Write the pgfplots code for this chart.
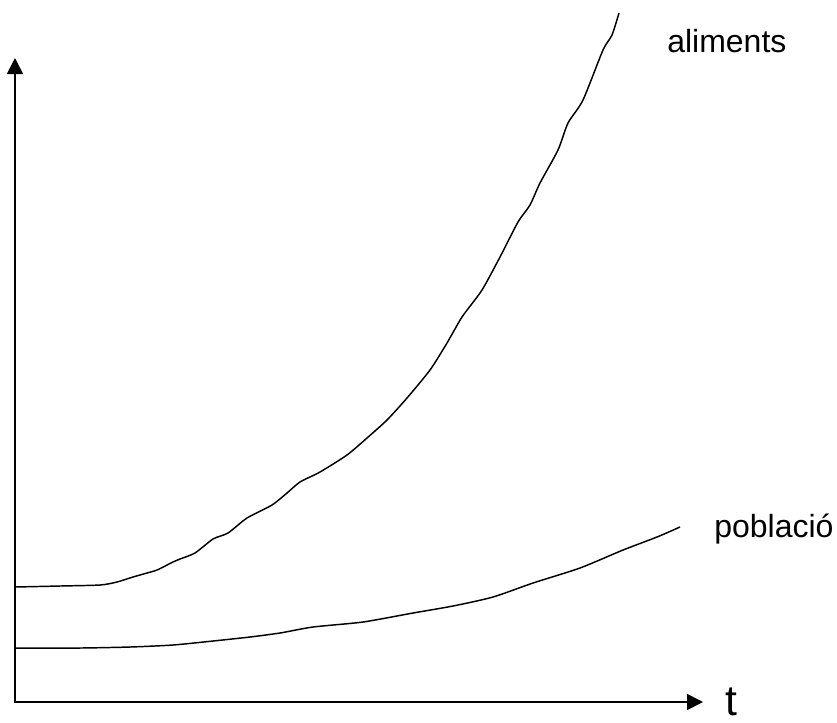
\documentclass[border=0pt]{standalone}
\usepackage{fontspec}
\setmainfont{Liberation Sans}
\usepackage{pgfplots}
\pgfplotsset{compat=1.18}
\usetikzlibrary{arrows.meta}

\begin{document}
\begin{tikzpicture}
\begin{axis}[
    width=627.75pt, height=541.5pt, scale only axis,
    xmin=0, xmax=837, ymin=0, ymax=722,
    y dir=reverse,
    hide axis, clip=false,
]
% frame of the page
\addplot[draw=none] coordinates {(0,0) (837,722)};

% axes
\addplot[line width=1.3pt, {Triangle[length=12pt,width=12pt]}-{Triangle[length=12pt,width=12pt]}]
    coordinates {(15,58) (15,702) (703,702)};

% aliments
\addplot[line width=1.1pt, black, smooth, tension=0.4] coordinates {
    (15,587) (60,586) (100,585) (117,582) (133,577) (147,573) (157,570)
    (173,562) (180,559) (195,553) (213,539) (228,533) (247,518) (272,505)
    (287,493) (300,482) (320,472) (347,455) (367,438) (387,420) (407,398)
    (430,370) (447,343) (462,317) (482,290) (500,257) (518,222) (530,205)
    (540,183) (558,150) (568,123) (583,100) (603,50) (612,35) (619,13)
};

% poblacio
\addplot[line width=1.1pt, black, smooth, tension=0.4] coordinates {
    (15,648) (80,648) (130,647) (173,645) (213,641) (250,637) (280,633)
    (313,627) (363,622) (413,613) (453,606) (493,597) (533,583) (580,568)
    (623,550) (657,537) (680,527)
};

\node[anchor=base west, inner sep=0pt, font=\fontsize{24}{28}\selectfont] at (axis cs:667,52) {aliments};
\node[anchor=base west, inner sep=0pt, font=\fontsize{24}{28}\selectfont] at (axis cs:714,537) {població};
\node[anchor=base west, inner sep=0pt, font=\fontsize{32}{38}\selectfont] at (axis cs:725,715) {t};
\end{axis}
\end{tikzpicture}
\end{document}
